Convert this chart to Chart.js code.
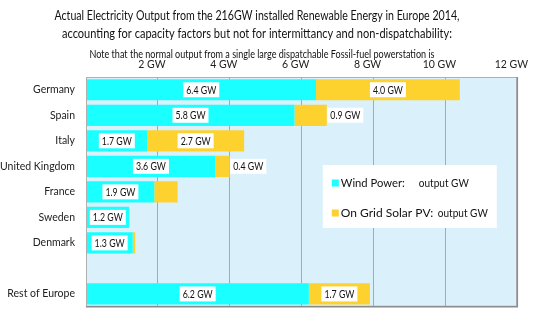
<!DOCTYPE html>
<html>
<head>
<meta charset="utf-8">
<script src="https://cdn.jsdelivr.net/npm/chart.js@4/dist/chart.umd.min.js"></script>
<style>
html,body{margin:0;padding:0;background:#fff;}
#wrap{width:540px;height:324px;position:relative;}
</style>
</head>
<body>
<div id="wrap"><canvas id="c" width="540" height="324"></canvas></div>
<script>
const categories = ["Germany","Spain","Italy","United Kingdom","France","Sweden","Denmark","","Rest of Europe"];
const windValues = [6.4, 5.8, 1.7, 3.6, 1.9, 1.2, 1.3, null, 6.2];
const solarValues = [4.0, 0.9, 2.7, 0.4, 0.65, 0, 0.07, null, 1.7];
const windLabelPos = ["center","center","center","center","center","center","center","none","center"];
const solarLabelPos = ["center","outside","center","outside","none","none","none","none","center"];
const xTicks = [2, 4, 6, 8, 10, 12];
const seriesNames = ["Wind Power:  output GW", "On Grid Solar PV:  output GW"];
const titleLines = ["Actual Electricity Output from the 216GW installed Renewable Energy in Europe 2014,",
                    "accounting for capacity factors but not for intermittancy and non-dispatchability:"];
const noteText = "Note that the normal output from a single large dispatchable Fossil-fuel powerstation is";

const CYAN = "#1affff", YELLOW = "#fdd22e", PLOTBG = "#daf1fb";
const FONT = "Lato";

const decor = {
  id: "decor",
  beforeDraw(chart) {
    const {ctx, chartArea: a} = chart;
    ctx.save();
    ctx.fillStyle = "#fff";
    ctx.fillRect(0, 0, chart.width, chart.height);
    ctx.fillStyle = PLOTBG;
    ctx.fillRect(a.left, a.top, a.right - a.left, a.bottom - a.top);
    ctx.restore();
  },
  afterDraw(chart) {
    const {ctx, chartArea: a} = chart;
    ctx.save();
    // border
    ctx.strokeStyle = "#b0b0b0";
    ctx.lineWidth = 1;
    ctx.strokeRect(a.left + 0.5, a.top + 0.5, a.right - a.left - 1, a.bottom - a.top - 1);
    ctx.strokeStyle = "#8c8c8c";
    ctx.lineWidth = 1.5;
    ctx.beginPath();
    ctx.moveTo(a.left, a.bottom);
    ctx.lineTo(a.right, a.bottom);
    ctx.lineTo(a.right, a.top);
    ctx.stroke();
    // titles
    ctx.fillStyle = "#111";
    ctx.textAlign = "center";
    ctx.textBaseline = "middle";
    ctx.font = "13px " + FONT;
    ctx.fillText(titleLines[0], 257, 16, 405);
    ctx.fillText(titleLines[1], 257, 34, 390);
    ctx.font = "10.5px " + FONT;
    ctx.fillText(noteText, 262, 55, 345);
    // data labels
    const drawBox = (text, cx, cy, align) => {
      ctx.font = "11px " + FONT;
      const tw = Math.min(ctx.measureText(text).width, 30);
      const w = tw + 6;
      const h = 15;
      const left = align === "left" ? cx : cx - w / 2;
      ctx.fillStyle = "#fff";
      ctx.fillRect(left, cy - h / 2, w, h);
      ctx.fillStyle = "#111";
      ctx.textAlign = "center";
      ctx.textBaseline = "middle";
      ctx.fillText(text, left + w / 2, cy + 0.5, tw);
    };
    const sets = [[windValues, windLabelPos], [solarValues, solarLabelPos]];
    sets.forEach((s, di) => {
      const meta = chart.getDatasetMeta(di);
      meta.data.forEach((el, i) => {
        const pos = s[1][i];
        const v = s[0][i];
        if (pos === "none" || v == null) return;
        const text = v.toFixed(1) + " GW";
        if (pos === "center") drawBox(text, (el.x + el.base) / 2, el.y, "center");
        else drawBox(text, el.x + 0.5, el.y, "left");
      });
    });
    // legend box
    const lx = a.left + (a.right - a.left) * 0.549, ly = a.top + 88;
    ctx.fillStyle = "#fff";
    ctx.fillRect(lx, ly, 174, 63);
    ctx.font = "12px " + FONT;
    ctx.textBaseline = "middle";
    const cols = [CYAN, YELLOW];
    const nameW = [64, 94], totalW = [128, 147];
    [18, 48].forEach((dy, k) => {
      ctx.fillStyle = cols[k];
      ctx.fillRect(lx + 9, ly + dy - 3.5, 7, 7);
      ctx.fillStyle = "#111";
      const parts = seriesNames[k].split("  ");
      ctx.textAlign = "left";
      ctx.fillText(parts[0], lx + 18, ly + dy, nameW[k]);
      ctx.textAlign = "right";
      ctx.fillText(parts[1], lx + 18 + totalW[k], ly + dy, 50);
    });
    ctx.restore();
  }
};

new Chart(document.getElementById("c"), {
  type: "bar",
  data: {
    labels: categories,
    datasets: [
      {label: seriesNames[0], data: windValues, backgroundColor: CYAN, borderWidth: 0},
      {label: seriesNames[1], data: solarValues, backgroundColor: YELLOW, borderWidth: 0}
    ]
  },
  options: {
    indexAxis: "y",
    responsive: false,
    animation: false,
    events: [],
    layout: {padding: {left: 0, right: 19, top: 55, bottom: 8}},
    plugins: {legend: {display: false}, title: {display: false}, tooltip: {enabled: false}},
    datasets: {bar: {barPercentage: 0.83, categoryPercentage: 1.0}},
    scales: {
      x: {
        position: "top",
        stacked: true,
        min: 0, max: 12,
        afterFit(s) { s.height = 22; },
        afterBuildTicks(s) { s.ticks = [0].concat(xTicks).map(v => ({value: v})); },
        grid: {color: "#a9a9a9", lineWidth: 1, drawTicks: false},
        border: {display: false},
        ticks: {
          padding: 6,
          labelOffset: -6,
          color: "#222",
          font: {family: FONT, size: 10.5},
          callback: (v) => v === 0 ? "" : v + " GW"
        }
      },
      y: {
        stacked: true,
        afterFit(s) { s.width = 86; },
        grid: {display: false, drawTicks: false},
        border: {display: false},
        ticks: {padding: 11, color: "#222", font: {family: FONT, size: 10.5}}
      }
    }
  },
  plugins: [decor]
});
</script>
</body>
</html>
